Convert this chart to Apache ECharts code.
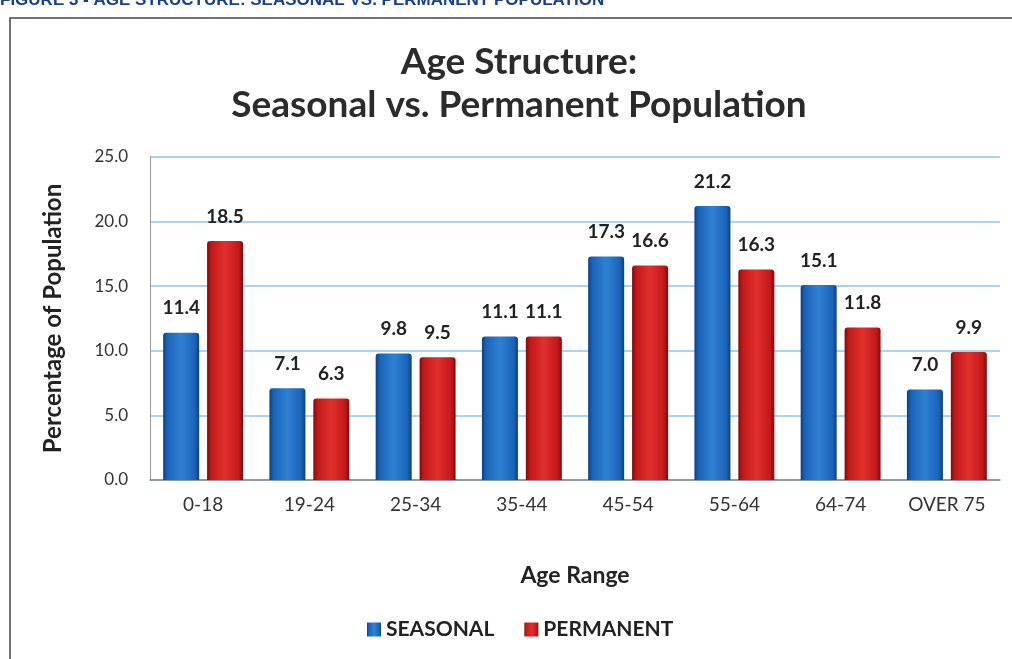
<!DOCTYPE html>
<html>
<head>
<meta charset="utf-8">
<script src="https://cdn.jsdelivr.net/npm/echarts@6/dist/echarts.min.js"></script>
<style>
html, body { margin: 0; padding: 0; background: #fff; }
#chart { width: 1012px; height: 659px; }
</style>
</head>
<body>
<div id="chart"></div>
<script>
var ageRanges = ['0-18', '19-24', '25-34', '35-44', '45-54', '55-64', '64-74', 'OVER 75'];
var seasonal = [11.4, 7.1, 9.8, 11.1, 17.3, 21.2, 15.1, 7.0];
var permanent = [18.5, 6.3, 9.5, 11.1, 16.6, 16.3, 11.8, 9.9];

var myChart = echarts.init(document.getElementById('chart'));
var font = 'Lato, "Open Sans", sans-serif';

// bevel-like fill for the bars
function barFill(dark, mid, light) {
    return new echarts.graphic.LinearGradient(0, 0, 1, 0, [
        { offset: 0, color: dark },
        { offset: 0.12, color: mid },
        { offset: 0.5, color: light },
        { offset: 0.88, color: mid },
        { offset: 1, color: dark }
    ]);
}

var labelStyle = {
    show: true,
    position: 'top',
    distance: 15,
    fontFamily: font,
    fontWeight: 'bold',
    fontSize: 19,
    color: '#222',
    formatter: function (p) { return p.value.toFixed(1); }
};

var option = {
    animation: false,
    backgroundColor: '#fff',
    textStyle: { fontFamily: font },
    title: {
        text: 'Age Structure:\nSeasonal vs. Permanent Population',
        left: 514,
        textAlign: 'center',
        top: 36,
        textStyle: {
            fontFamily: font,
            fontSize: 37,
            fontWeight: 'bold',
            color: '#2b2b2b',
            lineHeight: 43
        }
    },
    graphic: [
        {
            type: 'text',
            left: 0,
            top: -8,
            style: {
                text: 'FIGURE 3 - AGE STRUCTURE: SEASONAL VS. PERMANENT POPULATION',
                font: 'bold 17px "Liberation Sans", Arial, sans-serif',
                fill: '#1a3f8a'
            }
        },
        {
            type: 'polyline',
            shape: { points: [[10, 659], [10, 18], [1012, 18]] },
            style: { stroke: '#444', lineWidth: 1.5, fill: null }
        }
    ],
    legend: {
        bottom: 14,
        left: 362,
        itemWidth: 14,
        itemHeight: 14,
        itemGap: 30,
        icon: 'rect',
        textStyle: { fontFamily: font, fontWeight: 'bold', fontSize: 21, color: '#222' },
        data: ['SEASONAL', 'PERMANENT']
    },
    grid: { left: 150, right: 12, top: 157, bottom: 179 },
    xAxis: {
        type: 'category',
        data: ageRanges,
        name: 'Age Range',
        nameLocation: 'middle',
        nameGap: 84,
        nameTextStyle: { fontFamily: font, fontWeight: 'bold', fontSize: 23, color: '#222' },
        axisLine: { lineStyle: { color: '#888', width: 1.5 } },
        axisTick: { show: false },
        axisLabel: { margin: 15, fontFamily: font, fontSize: 19, color: '#333' }
    },
    yAxis: {
        type: 'value',
        min: 0,
        max: 25,
        interval: 5,
        name: 'Percentage of Population',
        nameLocation: 'middle',
        nameGap: 85,
        nameRotate: 90,
        nameTextStyle: { fontFamily: font, fontWeight: 'bold', fontSize: 24, color: '#222' },
        axisLine: { show: true, lineStyle: { color: '#999' } },
        axisTick: { show: false },
        axisLabel: {
            margin: 22,
            fontFamily: font,
            fontSize: 17,
            color: '#333',
            formatter: function (v) { return v.toFixed(1); }
        },
        splitLine: { lineStyle: { color: '#8cc4e8', width: 1.5 } }
    },
    series: [
        {
            name: 'SEASONAL',
            type: 'bar',
            data: seasonal,
            barWidth: 36,
            barGap: '22%',
            itemStyle: {
                color: barFill('#0d3f86', '#1a64b8', '#2f80d4'),
                borderRadius: [3, 3, 0, 0]
            },
            label: labelStyle
        },
        {
            name: 'PERMANENT',
            type: 'bar',
            data: permanent,
            barWidth: 36,
            itemStyle: {
                color: barFill('#7d0c0c', '#c4181a', '#e0302c'),
                borderRadius: [3, 3, 0, 0]
            },
            label: labelStyle
        }
    ]
};

myChart.setOption(option);
</script>
</body>
</html>
